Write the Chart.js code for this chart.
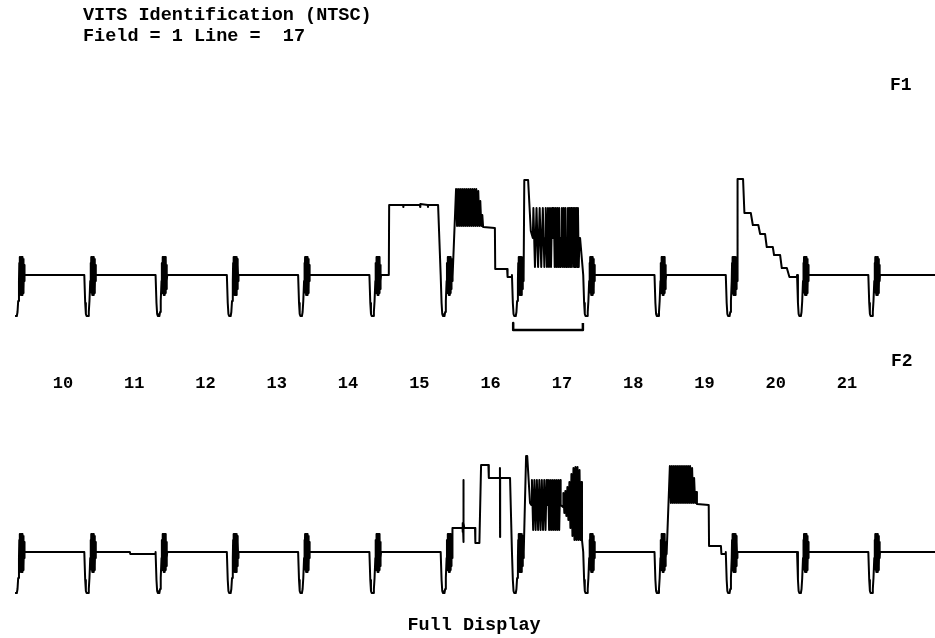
<!DOCTYPE html>
<html>
<head>
<meta charset="utf-8">
<script src="https://cdn.jsdelivr.net/npm/chart.js@4.4.1/dist/chart.umd.min.js"></script>
<style>
  body { margin: 0; background: #fff; }
  canvas { display: block; }
</style>
</head>
<body>
<canvas id="vits" width="935" height="638" style="width:935px;height:638px"></canvas>
<script>
// time in microseconds from the sync edge of line 10, level in IRE
var LINE_US = 63.5;
var FIRST_LINE = 10;
var LAST_LINE = 22;
var lineLabels = [10, 11, 12, 13, 14, 15, 16, 17, 18, 19, 20, 21];
var titleText = 'VITS Identification (NTSC)';
var fieldText = 'Field = 1 Line =  17';

// sync tip + colour burst, common to every line
var syncBurst = [[0,0],[0.8,-28],[1.4,-39],[2.0,-41],[3.4,-41],[4.0,-37],[4.6,-26],[5.3,-6],
  [5.6,12],[5.9,-16],[6.2,18],[6.5,-18],[6.8,18],[7.1,-20],[7.4,18],[7.7,-20],[8.0,18],[8.3,-20],
  [8.6,18],[8.9,-18],[9.2,16],[9.5,-14],[9.8,10],[10.1,-6],[10.4,0]];

// F1 line 15 - white bar
var whiteBar = [[17.3,0],[17.6,70],[30.0,70],[30.2,68],[30.4,70],[45.0,70],[45.2,68],[45.4,71],
  [52.0,70],[52.2,68],[52.4,70],[61.2,70]];

// modulated pedestal (F1 line 16, F2 line 19)
var modPedestal = [[10.8,-2],[13.7,86],[14.6,49],[15.5,86],[16.4,49],[17.3,86],[18.2,49],[19.1,86],
  [20.0,49],[20.9,86],[21.8,49],[22.7,86],[23.6,49],[24.5,86],[25.4,49],[26.3,86],[27.2,49],
  [28.1,86],[29.0,49],[29.9,86],[30.8,49],[31.7,86],[32.6,49],[33.5,84],[34.4,49],[35.3,74],
  [36.2,49],[37.1,60],[37.8,48],[48.3,47],[48.6,6],[59.2,6],[59.6,-2],[63.3,-2]];

// F1 line 17 - multiburst
var multiburstF1 = [[11.0,95],[14.4,95],[16.8,44],[18.6,37],
  [19.1,67],[20.5,8],[21.9,67],[23.3,8],[24.7,67],[26.1,8],[27.5,67],[28.9,8],[29.5,37],[29.9,37],
  [30.3,67],[31.2,8],[32.1,67],[33.0,8],[33.9,67],[34.8,8],[35.7,67],[36.4,37],[36.9,37],
  [37.3,67],[38.1,8],[38.9,67],[39.7,8],[40.5,67],[41.3,8],[42.1,67],[42.9,8],[43.5,37],[44.1,37],
  [44.5,67],[45.3,8],[46.1,67],[46.9,8],[47.7,67],[48.5,8],[49.0,37],[49.5,37],
  [49.9,67],[50.6,8],[51.3,67],[52.0,8],[52.7,67],[53.4,8],[53.9,37],[54.3,37],
  [54.6,67],[55.3,8],[56.0,67],[56.7,8],[57.4,67],[58.1,8],[58.8,67],[59.5,8],[60.1,37],[60.7,37]];

// F1 line 20 - ramp / staircase
var rampStair = [[10.5,0],[10.6,96],[15.4,96],[16.6,62],[22.3,62],[24.1,50],[29.0,50],[30.6,41],
  [35.0,41],[36.5,28],[41.9,28],[43.0,20],[48.4,20],[49.9,7],[54.4,7],[56.7,-2],[63.3,-2]];

// F2 lines
var f2Line11 = [[40.6,0],[41.0,-2],[63.3,-2]];
var f2Line16 = [[10.6,24],[19.5,24],[19.6,29],[19.7,20],[19.9,24],[20.1,72],[20.2,10],[20.4,24],
  [20.7,29],[21.0,24],[30.6,24],[30.9,9],[34.5,9],[36.0,87],[42.5,87],[42.9,74],[52.7,74],
  [52.8,84],[52.9,15],[53.0,74],[61.8,74]];
var f2Line17 = [[10.6,0],[12.6,96],[13.6,96],[16.1,49],[17.2,47],
  [17.8,72],[18.9,22],[20.0,72],[21.1,22],[22.2,72],[23.3,22],[24.4,72],[25.5,22],[26.6,72],
  [27.7,22],[28.8,72],[29.9,22],[30.9,72],[31.6,47],[32.2,72],[33.1,22],[34.0,72],[34.9,22],
  [35.8,72],[36.7,22],[37.6,72],[38.5,22],[39.4,72],[40.3,22],[41.2,72],[42.1,22],[43.0,72],
  [43.4,47],[45.5,45],
  [45.8,59],[46.7,39],[47.6,61],[48.5,36],[49.4,65],[50.3,32],[51.2,70],[52.1,24],[53.0,78],
  [53.9,16],[54.8,84],[55.7,12],[56.6,85],[57.5,12],[58.4,85],[59.3,12],[60.2,82],[61.1,12],
  [61.8,70],[62.4,12]];

var f1Bodies = { 15: whiteBar, 16: modPedestal, 17: multiburstF1, 20: rampStair };
var f2Bodies = { 11: f2Line11, 16: f2Line16, 17: f2Line17, 19: modPedestal };

var bracketLine = 17;
var bracketSpan = [1.1, 63.2];
var bracketLevels = [-48, -55];

var X_MIN = -11.6, X_MAX = 821.4;
var START_US = 1.8;
var LABEL_US = 44.5;

function buildTrace(bodies) {
  var pts = [{x: START_US, y: -41}];
  for (var n = FIRST_LINE; n <= LAST_LINE; n++) {
    var base = (n - FIRST_LINE) * LINE_US;
    var shape = syncBurst.concat(bodies[n] || []);
    for (var i = 0; i < shape.length; i++) {
      var t = base + shape[i][0];
      if (t > START_US) pts.push({x: t, y: shape[i][1]});
    }
  }
  pts.push({x: X_MAX + 1, y: 0});
  return pts;
}

var bBase = (bracketLine - FIRST_LINE) * LINE_US;
var bracketPts = [
  {x: bBase + bracketSpan[0], y: bracketLevels[0]},
  {x: bBase + bracketSpan[0], y: bracketLevels[1]},
  {x: bBase + bracketSpan[1], y: bracketLevels[1]},
  {x: bBase + bracketSpan[1], y: bracketLevels[0]}
];

var textPlugin = {
  id: 'vitsText',
  afterDraw: function(chart) {
    var c = chart.ctx;
    var xs = chart.scales.x;
    c.save();
    c.fillStyle = '#000';
    c.textAlign = 'left';
    c.font = 'bold 18.5px "Liberation Mono", monospace';
    c.fillText(titleText, 83, 20);
    c.fillText(fieldText, 83, 41);
    c.font = 'bold 18px "Liberation Mono", monospace';
    c.fillText('F1', 890, 90);
    c.fillText('F2', 891, 366);
    c.textAlign = 'center';
    c.font = 'bold 18.5px "Liberation Mono", monospace';
    c.fillText('Full Display', 474, 630);
    c.font = 'bold 17px "Liberation Mono", monospace';
    for (var i = 0; i < lineLabels.length; i++) {
      var n = lineLabels[i];
      c.fillText(String(n), xs.getPixelForValue((n - FIRST_LINE) * LINE_US + LABEL_US), 388);
    }
    c.restore();
  }
};

var traceStyle = {
  showLine: true,
  borderColor: '#000',
  borderWidth: 2,
  borderJoinStyle: 'round',
  pointRadius: 0,
  tension: 0
};

var ctx = document.getElementById('vits').getContext('2d');
var chart = new Chart(ctx, {
  type: 'scatter',
  data: {
    datasets: [
      Object.assign({ label: 'F1', data: buildTrace(f1Bodies), yAxisID: 'y' }, traceStyle),
      Object.assign({ label: 'F2', data: buildTrace(f2Bodies), yAxisID: 'y2' }, traceStyle),
      Object.assign({ label: 'bracket', data: bracketPts, yAxisID: 'y' }, traceStyle, { borderWidth: 2.5 })
    ]
  },
  options: {
    responsive: false,
    animation: false,
    devicePixelRatio: 1,
    layout: { padding: 0 },
    plugins: {
      legend: { display: false },
      tooltip: { enabled: false },
      title: { display: false }
    },
    scales: {
      x: { type: 'linear', min: X_MIN, max: X_MAX, display: false },
      y: { type: 'linear', min: -363, max: 275, display: false },
      y2: { type: 'linear', min: -86, max: 552, display: false }
    }
  },
  plugins: [textPlugin]
});
</script>
</body>
</html>
